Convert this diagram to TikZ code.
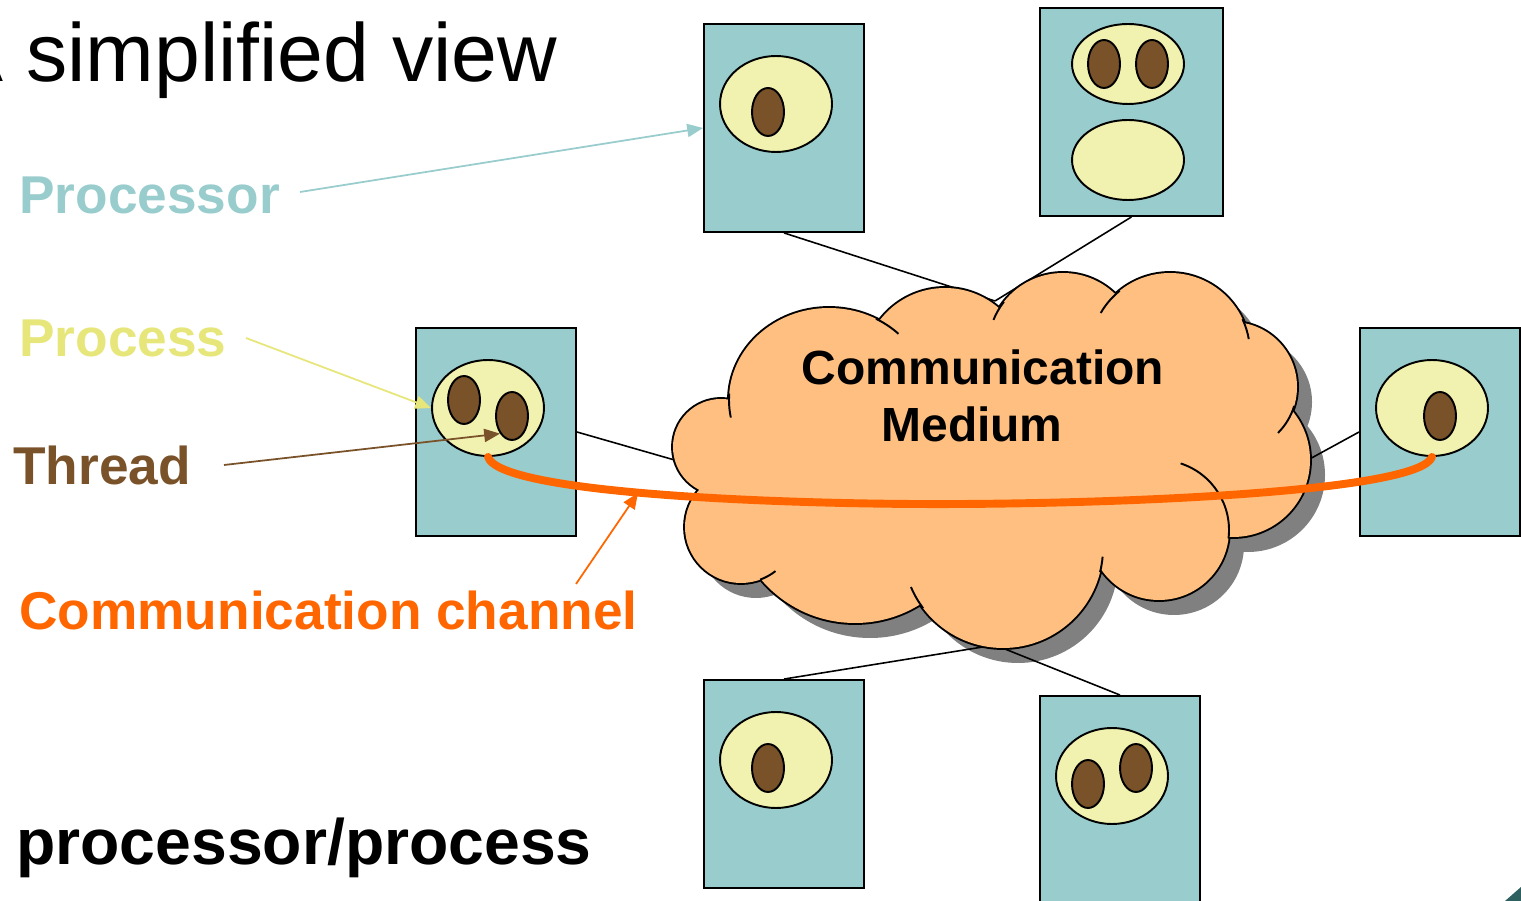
\documentclass[tikz,border=0pt]{standalone}
\usepackage{fontspec}
\setmainfont{Liberation Sans}
\usetikzlibrary{shapes.geometric,arrows.meta}
\definecolor{tealc}{HTML}{99CCCC}
\definecolor{yelc}{HTML}{F2F2B0}
\definecolor{brownc}{HTML}{7A5229}
\definecolor{proclab}{HTML}{E6E67A}
\definecolor{orangec}{HTML}{FF6600}
\definecolor{cloudc}{HTML}{FFBF80}
\definecolor{shadowc}{HTML}{808080}
\definecolor{darkteal}{HTML}{2F6060}
\newcommand{\cloudlobepath}{(829,400) ellipse[x radius=100,y radius=92]
 (945,370) circle[radius=82] (1063,348) circle[radius=75] (1170,353) circle[radius=80]
 (1232,387) circle[radius=65] (1233,460) circle[radius=77] (1159,530) circle[radius=70]
 (1003,548) circle[radius=100] (855,500) circle[radius=123] (741,527) circle[radius=56]
 (721,447) circle[radius=48] (990,450) ellipse[x radius=250,y radius=120]}
\newcommand{\lobearc}[5]{\draw[cloudline] ([shift={(#1,#2)}]#4:#3) arc[start angle=#4,end angle=#5,radius=#3];}
\begin{document}
\begin{tikzpicture}[x={(0.02cm,0)},y={(0,-0.02cm)},
 box/.style={rectangle,draw=black,fill=tealc,line width=1.1pt,minimum width=3.2cm,minimum height=4.16cm,inner sep=0pt},
 proc/.style={ellipse,draw=black,fill=yelc,line width=1.1pt,minimum width=2.24cm,minimum height=1.92cm,inner sep=0pt},
 procflat/.style={proc,minimum height=1.6cm},
 thr/.style={ellipse,draw=black,fill=brownc,line width=1.1pt,minimum width=0.64cm,minimum height=0.96cm,inner sep=0pt},
 link/.style={draw=black,line width=0.9pt},
 cloudline/.style={draw=black,line width=1.1pt},
 lbl/.style={anchor=base west,inner sep=0pt,font=\fontsize{30.3pt}{36pt}\selectfont\bfseries},
 cloudtxt/.style={anchor=base,inner sep=0pt,font=\fontsize{27.3pt}{33pt}\selectfont\bfseries},
 labarrow/.style={line width=1pt,-{Triangle[length=9pt,width=7.5pt]}},
 channel/.style={draw=orangec,line width=4.5pt,line cap=round}]
\useasboundingbox (0,0) rectangle (1521,901);

% cloud shadow
\fill[shadowc,shift={(15,15)}] \cloudlobepath;

% boxes (nodes)
\node[box] (b1) at (784,128) {};
\node[box,minimum width=3.66cm] (b2) at (1131.5,112) {};
\node[box] (b3) at (496,432) {};
\node[box] (b4) at (1440,432) {};
\node[box] (b5) at (784,784) {};
\node[box] (b6) at (1120,800) {};

% links to the cloud
\coordinate (ct) at (995,301);
\coordinate (cl) at (678,461);
\coordinate (cr) at (1306,461);
\coordinate (cb) at (995,645);
\draw[link] (b1.south) -- (ct);
\draw[link] (b2.south) -- (ct);
\draw[link] (b3.east) -- (cl);
\draw[link] (b4.west) -- (cr);
\draw[link] (b5.north) -- (cb);
\draw[link] (b6.north) -- (cb);

% redraw boxes on top of links
\node[box] at (b1) {};
\node[box,minimum width=3.66cm] at (b2) {};
\node[box] at (b3) {};
\node[box] at (b4) {};
\node[box] at (b5) {};
\node[box] at (b6) {};

% cloud
\draw[line width=2.2pt] \cloudlobepath;
\fill[cloudc] \cloudlobepath;
\draw[cloudline] ([shift={(829,400)}]-62:100 and 92) arc[start angle=-62,end angle=-46,x radius=100,y radius=92];
\draw[cloudline] ([shift={(829,400)}]184:100 and 92) arc[start angle=184,end angle=169,x radius=100,y radius=92];
\lobearc{1063}{348}{75}{-142}{-158}
\lobearc{1170}{353}{80}{-129}{-150}
\lobearc{1170}{353}{80}{-25}{-10}
\lobearc{1232}{387}{65}{17}{45}
\lobearc{1159}{530}{70}{7}{-72}
\lobearc{1003}{548}{100}{14}{5}
\lobearc{1003}{548}{100}{143}{157}
\lobearc{741}{527}{56}{70}{52}
\node[cloudtxt] (cm1) at (983,385) {Communication};
\node[cloudtxt] (cm2) at (972,442) {Medium};

% processes and threads
\node[proc] (p1) at (776,104) {};
\node[thr] (t1) at (768,112) {};
\node[procflat] (p2a) at (1128,64) {};
\node[thr] (t2a) at (1104,64) {};
\node[thr] (t2b) at (1152,64) {};
\node[procflat] (p2b) at (1128,160) {};
\node[proc] (p3) at (488,408) {};
\node[thr] (t3a) at (464,400) {};
\node[thr] (t3b) at (512,416) {};
\node[proc] (p4) at (1432,408) {};
\node[thr] (t4) at (1440,416) {};
\node[proc] (p5) at (776,760) {};
\node[thr] (t5) at (768,768) {};
\node[proc] (p6) at (1112,776) {};
\node[thr] (t6a) at (1088,784) {};
\node[thr] (t6b) at (1136,768) {};

% communication channel
\coordinate (chmid) at (960,504);
\draw[channel] (p3.south) .. controls (500,495) and (800,505) .. (chmid)
  .. controls (1150,503) and (1420,490) .. (p4.south);

% labels
\node[anchor=base west,inner sep=0pt,font=\fontsize{46.9pt}{56pt}\selectfont] (title) at (-52,82) {A simplified view};
\node[lbl,text=tealc] (lproc) at (19,214) {Processor};
\node[lbl,text=proclab] (lprocess) at (19,357) {Process};
\node[lbl,text=brownc] (lthread) at (13,485) {Thread};
\node[lbl,text=orangec] (lchan) at (19,630) {Communication channel};
\node[anchor=base west,inner sep=0pt,font=\fontsize{36.6pt}{44pt}\selectfont\bfseries] (lpp) at (16,864) {processor/process};

% label arrows
\coordinate (procS) at (300,192);
\coordinate (processS) at (246,338);
\coordinate (threadS) at (224,465);
\coordinate (chanS) at (576,584);
\coordinate (chanT) at (638,493);
\draw[labarrow,draw=tealc] (procS) -- (b1.west);
\draw[labarrow,draw=proclab] (processS) -- (p3.west);
\draw[labarrow,draw=brownc] (threadS) -- (t3b.south west);
\draw[labarrow,draw=orangec] (chanS) -- (chanT);

% corner decoration
\fill[darkteal] (1505,901) -- (1521,887) -- (1521,901) -- cycle;
\end{tikzpicture}
\end{document}
